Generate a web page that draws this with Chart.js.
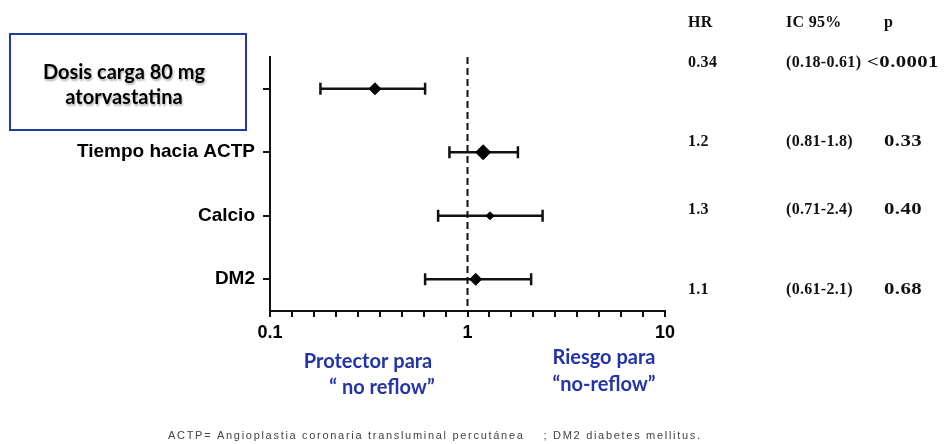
<!DOCTYPE html>
<html lang="es">
<head>
<meta charset="utf-8">
<title>Predictores de no reflow</title>
<script src="https://cdn.jsdelivr.net/npm/chart.js@4.4.1/dist/chart.umd.min.js"></script>
<style>
  html, body { margin: 0; padding: 0; background: #fff; }
  #wrap { width: 946px; height: 444px; }
</style>
</head>
<body>
<div id="wrap"><canvas id="forest" width="946" height="444"></canvas></div>
<script>
// Variables del modelo (filas del forest plot, de arriba abajo)
const categories = ['Dosis carga 80 mg atorvastatina', 'Tiempo hacia ACTP', 'Calcio', 'DM2'];
// Hazard ratio y su intervalo de confianza al 95 %
const hr = [0.34, 1.2, 1.3, 1.1];
const ciLow = [0.18, 0.81, 0.71, 0.61];
const ciHigh = [0.61, 1.8, 2.4, 2.1];
const pValues = ['<0.0001', '0.33', '0.40', '0.68'];
// Etiquetas del eje X (décadas de la escala logarítmica)
const xTickLabels = ['0.1', '1', '10'];
const tableHeaders = ['HR', 'IC 95%', 'p'];

// Tamaño de cada rombo
const markerRadius = [6, 7.5, 4, 6];
const INK = '#111';

// El eje X es lineal en log10(HR): cada década ocupa el mismo ancho
const lx = v => Math.log10(v);
const rowY = i => i + 1;

const ciDatasets = categories.map((c, i) => ({
  label: 'IC ' + c,
  data: [{ x: lx(ciLow[i]), y: rowY(i) }, { x: lx(ciHigh[i]), y: rowY(i) }],
  showLine: true,
  borderColor: INK,
  borderWidth: 2.5,
  pointStyle: 'line',
  rotation: 90,
  pointRadius: 6,
  pointBorderWidth: 2.5,
  pointBorderColor: INK,
  order: 2
}));

const refLine = {
  label: 'HR = 1',
  data: [{ x: lx(1), y: 0.5 }, { x: lx(1), y: 4.5 }],
  showLine: true,
  borderColor: INK,
  borderWidth: 2,
  borderDash: [7, 4],
  pointRadius: 0,
  order: 3
};

const hrPoints = {
  label: 'HR',
  data: hr.map((v, i) => ({ x: lx(v), y: rowY(i) })),
  pointStyle: 'rectRot',
  pointRadius: markerRadius,
  backgroundColor: '#000',
  borderColor: '#000',
  borderWidth: 1,
  order: 1
};

// Cuadro, tabla y textos explicativos alrededor del gráfico
const annotations = {
  id: 'annotations',
  afterDraw(chart) {
    const ctx = chart.ctx;
    ctx.save();

    // Cuadro de la primera variable
    ctx.strokeStyle = '#1f3c9c';
    ctx.lineWidth = 2;
    ctx.strokeRect(10, 34, 236, 96);
    ctx.save();
    ctx.shadowColor = 'rgba(0,0,0,0.3)';
    ctx.shadowOffsetX = 1;
    ctx.shadowOffsetY = 1.5;
    ctx.shadowBlur = 2;
    ctx.fillStyle = '#000';
    ctx.font = 'bold 20px Lato, "Open Sans", sans-serif';
    ctx.textAlign = 'center';
    ctx.textBaseline = 'middle';
    const words = categories[0].split(' ');
    ctx.fillText(words.slice(0, 4).join(' '), 124, 73);
    ctx.fillText(words.slice(4).join(' '), 124, 98);
    ctx.restore();

    // Tabla HR / IC 95% / p
    const colX = [688, 786, 884];
    const tableRowY = [63, 142, 210, 290];
    ctx.fillStyle = '#111';
    ctx.font = 'bold 16px "Liberation Serif", "DejaVu Serif", serif';
    ctx.textBaseline = 'middle';
    ctx.textAlign = 'left';
    ctx.letterSpacing = '0.3px';
    tableHeaders.forEach((h, j) => ctx.fillText(h, colX[j], 23));
    categories.forEach((c, i) => {
      ctx.fillText(String(hr[i]), colX[0], tableRowY[i]);
      ctx.fillText('(' + ciLow[i] + '-' + ciHigh[i] + ')', colX[1], tableRowY[i]);
    });
    // columna p, con cifras más anchas
    ctx.textAlign = 'center';
    categories.forEach((c, i) => {
      ctx.save();
      ctx.translate(903, tableRowY[i]);
      ctx.scale(1.3, 1);
      ctx.fillText(pValues[i], 0, 0);
      ctx.restore();
    });
    ctx.letterSpacing = '0px';

    // Interpretación a cada lado de HR = 1
    ctx.fillStyle = '#2334a8';
    ctx.font = 'bold 20px Lato, "Open Sans", sans-serif';
    ctx.textAlign = 'center';
    ctx.fillText('Protector para', 368, 362);
    ctx.fillText('\u201C no reflow\u201D', 382, 388);
    ctx.fillText('Riesgo para', 604, 358);
    ctx.fillText('\u201Cno-reflow\u201D', 604, 385);

    // Nota al pie
    ctx.fillStyle = '#444';
    ctx.font = '11px "Liberation Sans", Arial, sans-serif';
    ctx.textAlign = 'left';
    ctx.letterSpacing = '1.7px';
    ctx.fillText('ACTP= Angioplastia coronaria transluminal percut\u00E1nea    ; DM2 diabetes mellitus.', 168, 436);
    ctx.letterSpacing = '0px';
    ctx.restore();
  }
};

new Chart(document.getElementById('forest'), {
  type: 'scatter',
  data: { datasets: [refLine, ...ciDatasets, hrPoints] },
  options: {
    responsive: false,
    animation: false,
    devicePixelRatio: 1,
    layout: { padding: { left: 0, right: 281, top: 57, bottom: 93 } },
    plugins: { legend: { display: false }, tooltip: { enabled: false } },
    scales: {
      x: {
        type: 'linear',
        min: lx(0.1),
        max: lx(10),
        // nueve divisiones iguales por década
        afterBuildTicks: s => {
          const t = [];
          for (let k = 0; k <= 18; k++) t.push({ value: -1 + k / 9 });
          s.ticks = t;
        },
        afterFit: s => { s.height = 40; },
        ticks: {
          autoSkip: false,
          maxRotation: 0,
          minRotation: 0,
          padding: 5,
          color: '#000',
          font: { family: '"Liberation Sans", Arial, sans-serif', size: 18, weight: 'bold' },
          callback: (v, i) => (i % 9 === 0 ? xTickLabels[i / 9] : '')
        },
        grid: { drawOnChartArea: false, tickLength: 6, color: INK, lineWidth: 2 },
        border: { color: INK, width: 2 }
      },
      y: {
        type: 'linear',
        reverse: true,
        min: 0.5,
        max: 4.5,
        afterBuildTicks: s => { s.ticks = categories.map((c, i) => ({ value: rowY(i) })); },
        afterFit: s => { s.width = 270; },
        ticks: {
          padding: 8,
          color: '#000',
          font: { family: '"Liberation Sans", Arial, sans-serif', size: 19, weight: 'bold' },
          callback: (v, i) => (i === 0 ? '' : categories[i])
        },
        grid: { drawOnChartArea: false, tickLength: 7, color: INK, lineWidth: 2 },
        border: { color: INK, width: 2 }
      }
    }
  },
  plugins: [annotations]
});
</script>
</body>
</html>
